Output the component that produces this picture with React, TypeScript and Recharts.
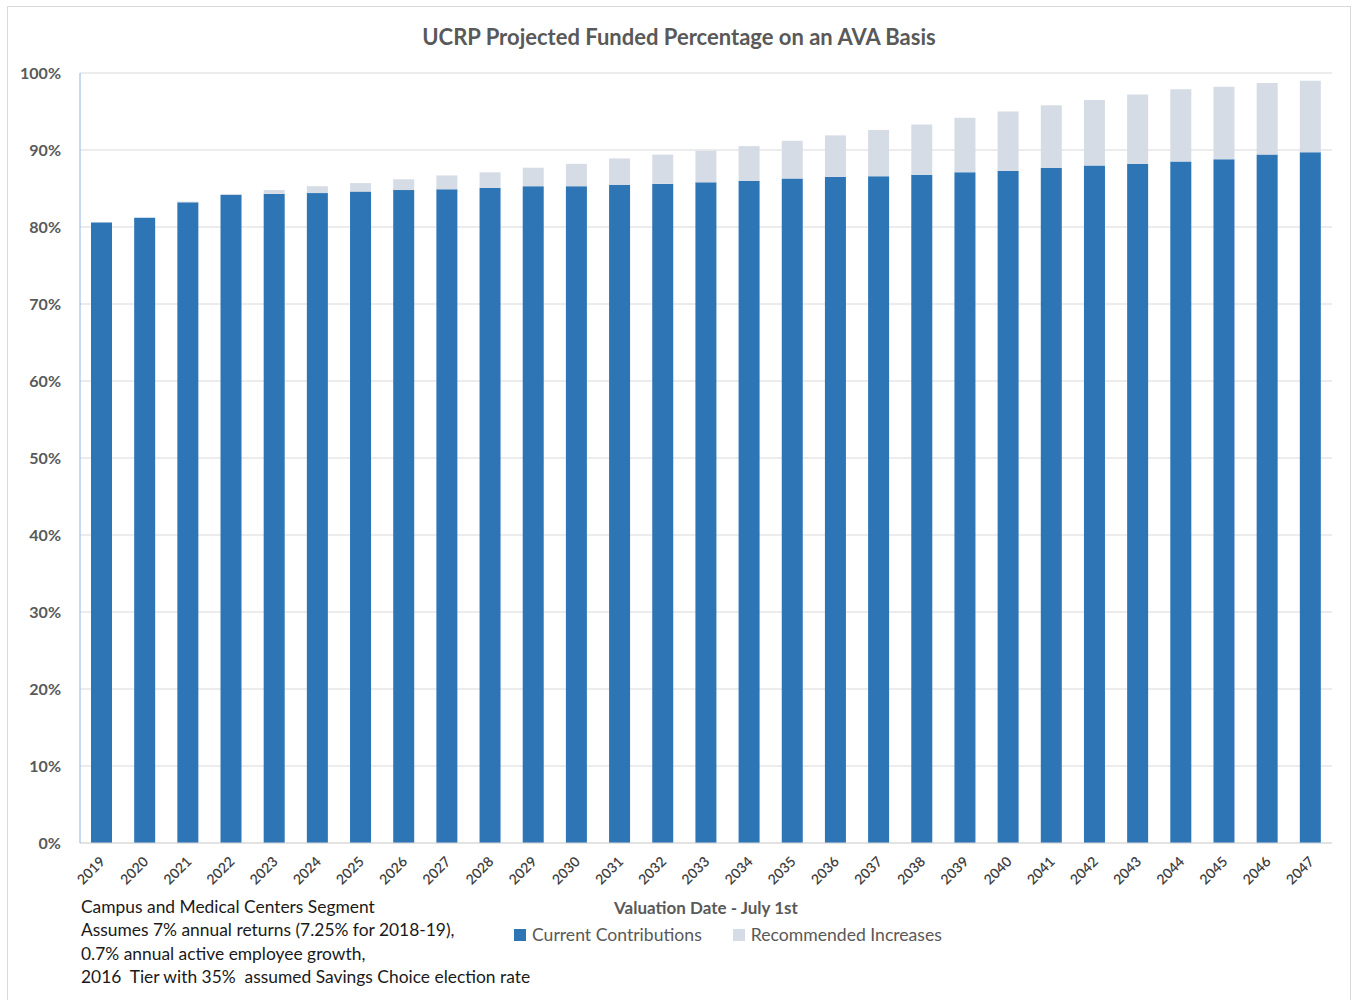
import React from "react";
import { BarChart, Bar, XAxis, YAxis, CartesianGrid, Legend } from "recharts";

const years = [
  "2019", "2020", "2021", "2022", "2023", "2024", "2025", "2026", "2027", "2028",
  "2029", "2030", "2031", "2032", "2033", "2034", "2035", "2036", "2037", "2038",
  "2039", "2040", "2041", "2042", "2043", "2044", "2045", "2046", "2047",
];

const currentContributions = [
  80.6, 81.2, 83.2, 84.2, 84.3, 84.4, 84.6, 84.8, 84.9, 85.1,
  85.3, 85.3, 85.5, 85.6, 85.8, 86.0, 86.3, 86.5, 86.6, 86.8,
  87.1, 87.3, 87.7, 88.0, 88.2, 88.5, 88.8, 89.4, 89.7,
];

const recommendedIncreases = [
  0, 0, 0.1, 0.1, 0.5, 0.9, 1.1, 1.4, 1.8, 2.0,
  2.4, 2.9, 3.4, 3.8, 4.1, 4.5, 4.9, 5.4, 6.0, 6.5,
  7.1, 7.7, 8.1, 8.5, 9.0, 9.4, 9.4, 9.3, 9.3,
];

const yTicks = [0, 10, 20, 30, 40, 50, 60, 70, 80, 90, 100];

const notes = [
  "Campus and Medical Centers Segment",
  "Assumes 7% annual returns (7.25% for 2018-19),",
  "0.7% annual active employee growth,",
  "2016  Tier with 35%  assumed Savings Choice election rate",
];

const data = years.map((year, i) => ({
  year,
  current: currentContributions[i],
  increases: recommendedIncreases[i],
}));

const FONT = "Lato, 'Open Sans', sans-serif";
const GREY = "#595959";
const BLUE = "#2E75B6";
const LIGHT = "#D6DCE5";
const FRAME = "#8EB4E3";

const YearTick = (props: any) => {
  const { x, y, payload } = props;
  return (
    <g transform={`translate(${x + 1},${y + 8})`}>
      <text
        textAnchor="end"
        transform="rotate(-45)"
        fontSize={14}
        fontWeight={600}
        fill="#404040"
        fontFamily={FONT}
        dy="0.35em"
      >
        {payload.value}
      </text>
    </g>
  );
};

const LegendBox = (props: any) => {
  const { payload } = props;
  return (
    <div style={{ display: "flex", fontFamily: FONT, fontSize: 17.6, color: GREY }}>
      {payload.map((entry: any) => (
        <div key={entry.value} style={{ display: "flex", alignItems: "center", marginRight: 31 }}>
          <span style={{ width: 12, height: 12, background: entry.color, marginRight: 6 }} />
          <span>{entry.value}</span>
        </div>
      ))}
    </div>
  );
};

const App: React.FC = () => {
  return (
    <div
      style={{
        position: "absolute",
        left: 7,
        top: 6,
        width: 1342,
        height: 1000,
        border: "1px solid #d9d9d9",
        fontFamily: FONT,
      }}
    >
      <div
        style={{
          position: "absolute",
          top: 18,
          left: 0,
          width: 1342,
          textAlign: "center",
          fontSize: 22,
          fontWeight: 700,
          color: GREY,
          lineHeight: "24px",
        }}
      >
        UCRP Projected Funded Percentage on an AVA Basis
      </div>
      <BarChart
        width={1342}
        height={993}
        data={data}
        barSize={21}
        margin={{ top: 66, right: 18, left: 0, bottom: 86 }}
      >
        <CartesianGrid vertical={false} stroke="#d9d9d9" />
        <XAxis
          dataKey="year"
          interval={0}
          height={71}
          tick={<YearTick />}
          tickLine={false}
          axisLine={{ stroke: "#d9d9d9" }}
          label={{
            value: "Valuation Date - July 1st",
            position: "insideBottom",
            offset: 0,
            fill: GREY,
            fontSize: 17,
            fontWeight: 700,
            fontFamily: FONT,
          }}
        />
        <XAxis
          xAxisId="top"
          dataKey="year"
          orientation="top"
          height={0}
          tick={false}
          tickLine={false}
          axisLine={{ stroke: FRAME }}
        />
        <YAxis
          domain={[0, 100]}
          ticks={yTicks}
          width={72}
          tickLine={false}
          tickSize={0}
          tickMargin={19}
          axisLine={{ stroke: FRAME }}
          tickFormatter={(v: number) => `${v}%`}
          tick={{ fill: GREY, fontSize: 16, fontWeight: 700, fontFamily: FONT }}
        />
        <YAxis
          yAxisId="right"
          orientation="right"
          domain={[0, 100]}
          width={0}
          tick={false}
          tickLine={false}
          axisLine={{ stroke: FRAME }}
        />
        <Legend
          verticalAlign="middle"
          align="center"
          content={<LegendBox />}
          wrapperStyle={{ top: 917, left: 506, width: 520 }}
        />
        <Bar
          dataKey="current"
          name="Current Contributions"
          stackId="a"
          fill={BLUE}
          isAnimationActive={false}
        />
        <Bar
          dataKey="increases"
          name="Recommended Increases"
          stackId="a"
          fill={LIGHT}
          isAnimationActive={false}
        />
      </BarChart>
      <div
        style={{
          position: "absolute",
          top: 888,
          left: 73,
          fontSize: 17.4,
          lineHeight: "23.3px",
          color: "#1a1a1a",
          whiteSpace: "pre",
        }}
      >
        {notes.map((n) => (
          <div key={n}>{n}</div>
        ))}
      </div>
    </div>
  );
};

export default App;
